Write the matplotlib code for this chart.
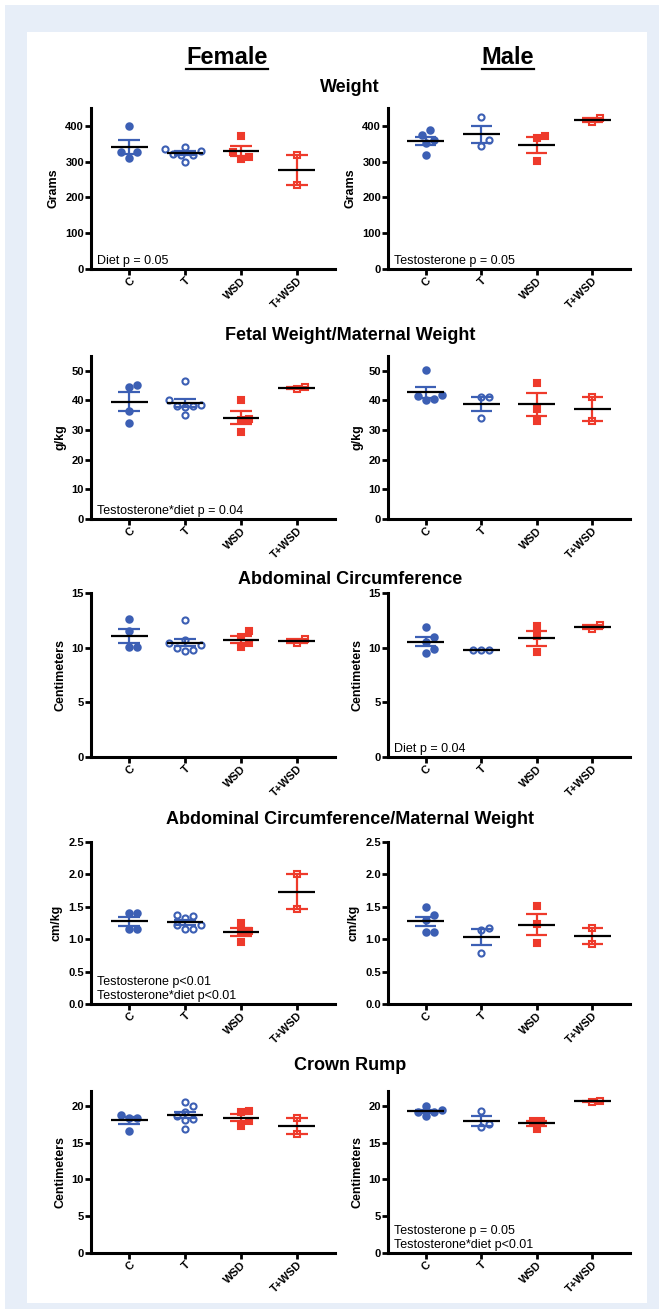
import numpy as np
import matplotlib
matplotlib.use('Agg')
import matplotlib.pyplot as plt
from matplotlib.patches import Rectangle
from matplotlib.lines import Line2D

plt.rcParams['font.family'] = ['Liberation Sans', 'DejaVu Sans']

groups = ['C', 'T', 'WSD', 'T+WSD']
panel_titles = ['Weight', 'Fetal Weight/Maternal Weight', 'Abdominal Circumference',
                'Abdominal Circumference/Maternal Weight', 'Crown Rump']
ylabels = ['Grams', 'g/kg', 'Centimeters', 'cm/kg', 'Centimeters']
ylims = [450, 55, 15, 2.5, 22]
ytick_step = [100, 10, 5, 0.5, 5]
ytick_max = [400, 50, 15, 2.5, 20]

# female values per group (C, T, WSD, T+WSD)
female = [
    [[400, 328, 328, 311], [335, 330, 340, 322, 300, 318, 320],
     [372, 326, 308, 313], [318, 236]],
    [[44.6, 45.1, 32.4, 36.3], [46.7, 38.0, 40.0, 38.5, 37.8, 35.0, 38.0],
     [40.0, 33.9, 33.3, 29.4], [44.0, 44.6]],
    [[12.6, 10.05, 10.05, 11.5], [12.5, 10.4, 10.7, 10.2, 10.0, 9.8, 9.7],
     [11.5, 10.95, 10.05, 10.4], [10.45, 10.8]],
    [[1.40, 1.40, 1.16, 1.16], [1.36, 1.33, 1.38, 1.22, 1.15, 1.15, 1.22],
     [1.25, 1.12, 0.95, 1.11], [2.0, 1.46]],
    [[18.4, 18.3, 18.8, 16.6], [20.45, 20.0, 16.85, 18.6, 19.1, 18.0, 18.2],
     [19.3, 19.1, 17.3, 17.9], [18.4, 16.2]],
]

# male values per group (C, T, WSD, T+WSD)
male = [
    [[388, 374, 360, 352, 318], [424, 345, 360], [372, 366, 303], [411, 423]],
    [[50.2, 41.7, 40.2, 40.6, 41.5], [41.2, 41.2, 34.1], [46.0, 37.0, 33.1], [41.2, 33.0]],
    [[11.9, 11.0, 10.5, 9.9, 9.5], [9.75, 9.78, 9.8], [11.94, 11.08, 9.6], [11.7, 12.05]],
    [[1.49, 1.37, 1.30, 1.11, 1.11], [1.175, 1.14, 0.79], [1.51, 1.23, 0.94], [1.175, 0.93]],
    [[19.9, 19.1, 18.6, 19.1, 19.45], [19.3, 17.05, 17.5], [17.95, 17.95, 16.9], [20.45, 20.7]],
]

female_notes = ['Diet p = 0.05', 'Testosterone*diet p = 0.04', '',
                'Testosterone p<0.01\nTestosterone*diet p<0.01', '']
male_notes = ['Testosterone p = 0.05', '', 'Diet p = 0.04', '',
              'Testosterone p = 0.05\nTestosterone*diet p<0.01']

blue = '#3c5fb4'
red = '#ee3a2b'
styles = [dict(marker='o', color=blue, filled=True),
          dict(marker='o', color=blue, filled=False),
          dict(marker='s', color=red, filled=True),
          dict(marker='s', color=red, filled=False)]

W, H = 664, 1309
fig = plt.figure(figsize=(W / 100, H / 100), dpi=100)

# light blue frame around a white panel
fig.patches.append(Rectangle((5 / W, 0), (659 - 5) / W, 1 - 5 / H, transform=fig.transFigure,
                             facecolor='#e7eef8', edgecolor='none', zorder=-10))
fig.patches.append(Rectangle((27 / W, 6 / H), (647 - 27) / W, 1 - 38 / H, transform=fig.transFigure,
                             facecolor='white', edgecolor='none', zorder=-9))

col_left = [91, 388]
col_right = [335, 630]
row_top = [108, 356, 593, 842, 1091]
row_bot = [269, 519, 757, 1004, 1253]
title_y = [88, 335, 580, 820, 1065]


def swarm(ax, x0, vals, d=8.0):
    """beeswarm-style horizontal offsets so markers don't overlap (pixel space)"""
    pts = ax.transData.transform(np.column_stack([np.full(len(vals), x0), vals]))
    ys = pts[:, 1]
    xs = np.zeros(len(vals))
    placed = []
    cands = [0]
    for k in range(1, 12):
        cands += [k * d / 2, -k * d / 2]
    for i in np.argsort(ys):
        for c in cands:
            if all((c - px) ** 2 + (ys[i] - py) ** 2 >= d ** 2 for px, py in placed):
                xs[i] = c
                placed.append((c, ys[i]))
                break
    px_per_unit = ax.transData.transform((1, 0))[0] - ax.transData.transform((0, 0))[0]
    return xs / px_per_unit


for r in range(5):
    for c, (data, notes) in enumerate([(female, female_notes), (male, male_notes)]):
        ax = fig.add_axes([col_left[c] / W, 1 - row_bot[r] / H,
                           (col_right[c] - col_left[c]) / W, (row_bot[r] - row_top[r]) / H])
        ax.set_xlim(-0.68, 3.68)
        ax.set_ylim(0, ylims[r])
        for g, vals in enumerate(data[r]):
            st = styles[g]
            vals = np.array(vals, dtype=float)
            off = swarm(ax, g, vals)
            ax.plot(g + off, vals, linestyle='none', marker=st['marker'],
                    ms=4.6 if st['filled'] else 4.4,
                    mec=st['color'], mew=1.5,
                    mfc=st['color'] if st['filled'] else 'none', zorder=3, clip_on=False)
            m = vals.mean()
            sem = vals.std(ddof=1) / np.sqrt(len(vals))
            ax.vlines(g, m - sem, m + sem, color=st['color'], lw=1.6, zorder=4)
            ax.hlines([m - sem, m + sem], g - 0.19, g + 0.19, color=st['color'], lw=1.6, zorder=4)
            ax.hlines(m, g - 0.33, g + 0.33, color='black', lw=1.6, zorder=5)

        ax.set_xticks(range(4))
        ax.set_xticklabels(groups, rotation=45, ha='right', rotation_mode='anchor',
                           fontsize=8, fontweight='bold')
        yt = np.arange(0, ytick_max[r] + ytick_step[r] / 2, ytick_step[r])
        ax.set_yticks(yt)
        if r == 3:
            ax.set_yticklabels(['%.1f' % v for v in yt])
        else:
            ax.set_yticklabels(['%d' % v for v in yt])
        for lab in ax.get_yticklabels():
            lab.set_fontsize(8)
            lab.set_fontweight('bold')
        ax.set_ylabel(ylabels[r], fontsize=9, fontweight='bold', labelpad=4)
        ax.spines['top'].set_visible(False)
        ax.spines['right'].set_visible(False)
        ax.spines['left'].set_linewidth(2.2)
        ax.spines['bottom'].set_linewidth(2.2)
        ax.tick_params(direction='out', length=4, width=2, pad=1)
        ax.patch.set_alpha(0)
        if notes[r]:
            ax.text(0.025, 0.015, notes[r], transform=ax.transAxes, fontsize=9,
                    ha='left', va='bottom', linespacing=1.2)

    fig.text(350 / W, 1 - title_y[r] / H, panel_titles[r], ha='center', va='center',
             fontsize=13, fontweight='bold')

# column headers with underline
heads = []
for x, s in [(227, 'Female'), (508, 'Male')]:
    heads.append(fig.text(x / W, 1 - 58 / H, s, ha='center', va='center',
                          fontsize=17, fontweight='bold'))
fig.canvas.draw()
for t in heads:
    bb = t.get_window_extent()
    fig.add_artist(Line2D([bb.x0 / W, bb.x1 / W], [1 - 69 / H, 1 - 69 / H],
                          transform=fig.transFigure, color='black', lw=1.6))

fig.savefig('out.png', dpi=100)
